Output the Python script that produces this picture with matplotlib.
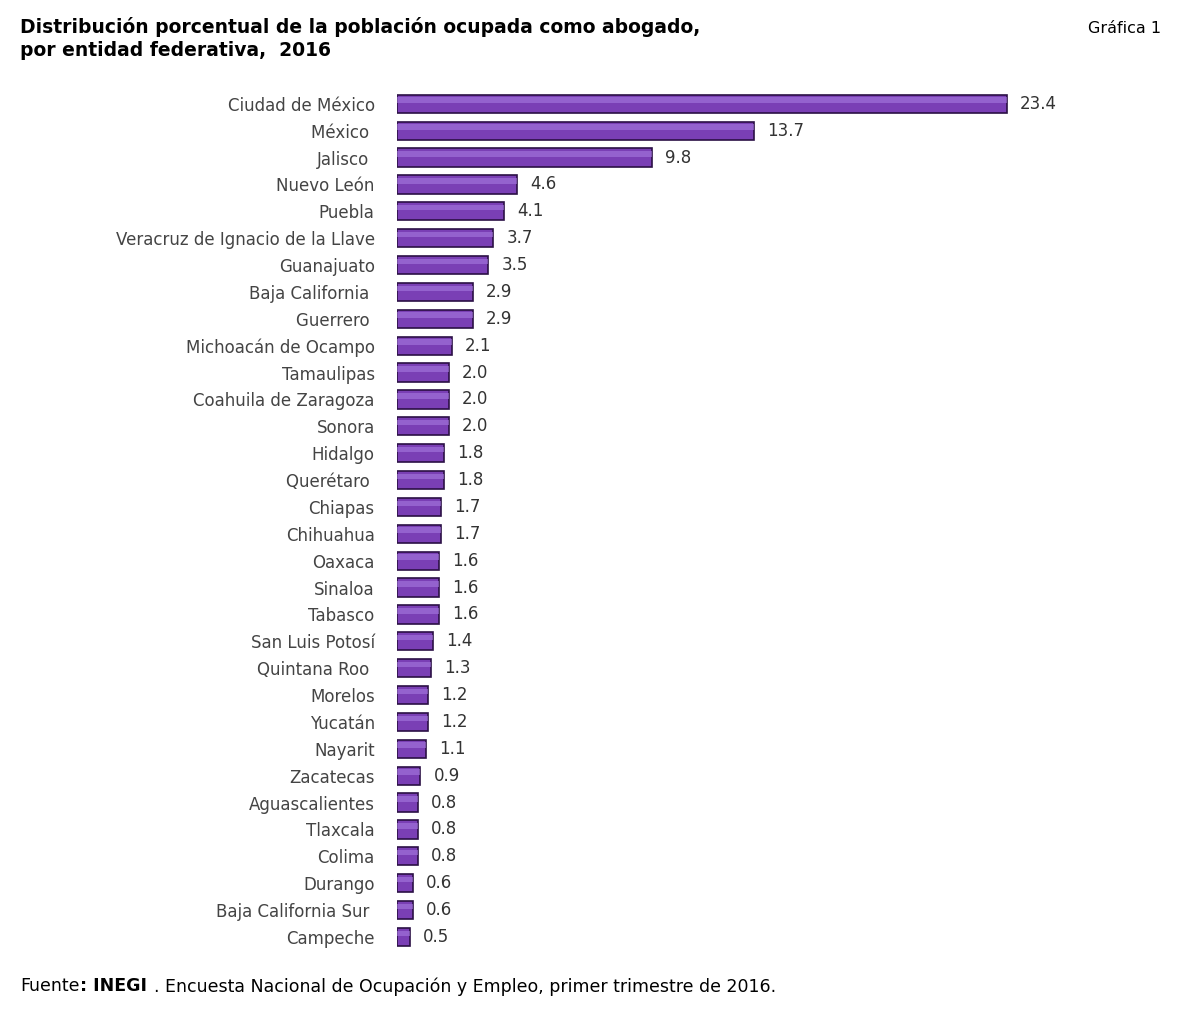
import matplotlib.pyplot as plt
from matplotlib.patches import Rectangle

estados = ['Ciudad de México', 'México ', 'Jalisco ', 'Nuevo León', 'Puebla',
           'Veracruz de Ignacio de la Llave', 'Guanajuato', 'Baja California ',
           'Guerrero ', 'Michoacán de Ocampo', 'Tamaulipas', 'Coahuila de Zaragoza',
           'Sonora', 'Hidalgo', 'Querétaro ', 'Chiapas', 'Chihuahua', 'Oaxaca',
           'Sinaloa', 'Tabasco', 'San Luis Potosí', 'Quintana Roo ', 'Morelos',
           'Yucatán', 'Nayarit', 'Zacatecas', 'Aguascalientes', 'Tlaxcala',
           'Colima', 'Durango', 'Baja California Sur ', 'Campeche']
valores = [23.4, 13.7, 9.8, 4.6, 4.1, 3.7, 3.5, 2.9, 2.9, 2.1, 2.0, 2.0, 2.0,
           1.8, 1.8, 1.7, 1.7, 1.6, 1.6, 1.6, 1.4, 1.3, 1.2, 1.2, 1.1, 0.9,
           0.8, 0.8, 0.8, 0.6, 0.6, 0.5]

fig = plt.figure(figsize=(11.79, 10.19), dpi=100)
ax = fig.add_axes([0.3367, 0.0673, 0.597, 0.844])

y = list(range(len(estados)))
bars = ax.barh(y, valores, height=0.68, color='#7a3fb5', edgecolor='#2b1045', linewidth=1.2)
# efecto de brillo
for b in bars:
    x0, y0 = b.get_x(), b.get_y()
    w, h = b.get_width(), b.get_height()
    ax.add_patch(Rectangle((x0, y0 + h * 0.15), w, h * 0.3, color='#a77be0', lw=0, alpha=0.6))
for yi, v in zip(y, valores):
    ax.text(v + 0.5, yi, f'{v:.1f}', va='center', ha='left', fontsize=12, color='#333333')

ax.set_yticks(y)
ax.set_yticklabels(estados, fontsize=12, color='#444444')
ax.tick_params(axis='y', length=0, pad=16)
ax.set_xticks([])
ax.set_xlim(0, 27)
ax.set_ylim(len(estados) - 0.5, -0.5)
for s in ax.spines.values():
    s.set_visible(False)

fig.text(0.017, 0.962, 'Distribución porcentual de la población ocupada como abogado,\npor entidad federativa,  2016',
         fontsize=13.5, fontweight='bold', va='center', ha='left', linespacing=1.3)
fig.text(0.985, 0.972, 'Gráfica 1', fontsize=11.5, ha='right', va='center')
fig.text(0.017, 0.032, 'Fuente', fontsize=12.5, va='center')
fig.text(0.068, 0.032, ': INEGI', fontsize=12.5, fontweight='bold', va='center')
fig.text(0.1305, 0.032, '. Encuesta Nacional de Ocupación y Empleo, primer trimestre de 2016.',
         fontsize=12.5, va='center')

fig.savefig('out.png', dpi=100)
